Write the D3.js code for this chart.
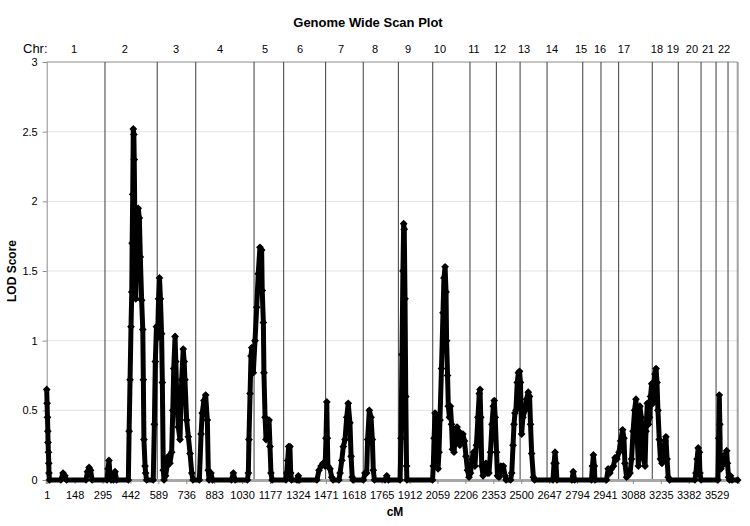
<!DOCTYPE html>
<html lang="en">
<head>
<meta charset="UTF-8">
<title>Genome Wide Scan Plot</title>
<script src="https://d3js.org/d3.v7.min.js"></script>
<style>
  body { margin: 0; background: #fff; }
  svg text { font-family: "Liberation Sans", Arial, sans-serif; fill: #000; }
</style>
</head>
<body>
<script>
// chromosome names, where each one ends (cM) and where its label sits (cM)
const chrNames = ["1","2","3","4","5","6","7","8","9","10","11","12","13","14","15","16","17","18","19","20","21","22"];
const chrEnds = [308, 583, 786, 1093, 1249, 1470, 1668, 1853, 2034, 2230, 2369, 2494, 2636, 2824, 2920, 3013, 3190, 3327, 3447, 3526, 3589, 3640];
const chrLabelAt = [145, 413, 682, 914, 1151, 1335, 1551, 1730, 1904, 2072, 2251, 2388, 2515, 2662, 2815, 2915, 3041, 3215, 3299, 3399, 3484, 3568];

const cmTicks = [1, 148, 295, 442, 589, 736, 883, 1030, 1177, 1324, 1471, 1618, 1765, 1912, 2059, 2206, 2353, 2500, 2647, 2794, 2941, 3088, 3235, 3382, 3529];
const lodTicks = [0, 0.5, 1, 1.5, 2, 2.5, 3];

// LOD score, [cM, LOD]
const scanChr1to4 = [
  [1,0.65],[3,0.55],[5,0.45],[7,0.35],[8,0.27],[10,0.2],[12,0.12],[13,0.05],[16,0],
  [76,0],[87,0.05],[97,0.03],[105,0],
  [208,0],[216,0.06],[224,0.09],[232,0.07],[240,0],
  [319,0],[324,0.08],[329,0.14],[334,0.05],[340,0],
  [353,0],[361,0.06],[369,0],
  [431,0],[435,0.35],[440,0.72],[445,1.1],[449,1.35],[451,1.7],[454,2.05],[457,2.52],[460,2.48],
  [462,2.3],[465,1.9],[468,1.5],[470,1.3],[474,1.6],[478,1.85],[483,1.95],[489,1.88],[494,1.6],
  [501,1.29],[507,1.08],[510,0.72],[513,0.29],[519,0.1],[522,0.05],[527,0],
  [562,0],[568,0.4],[573,0.85],[579,1.1],[585,1.02],[590,1.3],[595,1.45],[600,1.3],[606,1.05],
  [610,0.7],[615,0.07],[619,0],[627,0.03],[635,0.1],[642,0.17],[650,0.12],[659,0.2],[665,0.5],
  [670,0.8],[677,1.03],[681,0.85],[686,0.6],[694,0.38],[703,0.29],[712,0.72],[720,0.94],[725,0.85],
  [729,0.72],[738,0.43],[747,0.31],[756,0.19],[765,0.05],[771,0],
  [805,0],[814,0.33],[820,0.48],[829,0.57],[838,0.61],[847,0.43],[852,0.07],[856,0],[866,0.05],[874,0],
  [974,0],[984,0.05],[993,0]
];
const scanChr5to9 = [
  [1058,0],[1063,0.05],[1066,0.29],[1072,0.62],[1077,0.89],[1081,0.95],[1089,0.77],[1098,1.0],[1107,1.24],
  [1115,1.48],[1124,1.67],[1133,1.65],[1136,1.36],[1142,1.13],[1145,0.77],[1151,0.45],[1156,0.29],
  [1163,0.41],[1172,0.43],[1177,0.24],[1182,0.05],[1188,0],
  [1261,0],[1265,0.05],[1270,0.14],[1275,0.24],[1282,0.24],[1286,0.05],[1290,0],
  [1319,0],[1326,0.03],[1332,0],
  [1424,0],[1435,0.07],[1446,0.1],[1456,0.12],[1467,0.1],[1472,0.3],[1476,0.56],[1479,0.3],[1482,0.1],
  [1493,0.08],[1502,0.02],[1509,0],
  [1540,0],[1546,0.05],[1555,0.14],[1563,0.24],[1572,0.29],[1581,0.45],[1589,0.55],[1598,0.41],
  [1604,0.17],[1610,0.02],[1614,0],
  [1669,0],[1677,0.05],[1686,0.05],[1691,0.29],[1700,0.5],[1709,0.45],[1716,0.29],[1721,0.07],[1727,0],
  [1783,0],[1792,0.03],[1801,0],
  [1862,0],[1867,0.3],[1872,0.9],[1877,1.5],[1881,1.84],[1884,1.8],[1888,1.3],[1892,0.6],[1896,0.1],[1898,0]
];
const scanChr10to13 = [
  [2033,0],[2037,0.1],[2041,0.3],[2046,0.48],[2051,0.4],[2056,0.15],[2062,0.08],[2067,0.2],[2072,0.43],
  [2080,0.8],[2088,1.2],[2093,1.45],[2099,1.53],[2104,1.35],[2107,1.0],[2112,0.75],[2116,0.53],
  [2122,0.45],[2127,0.53],[2133,0.4],[2138,0.22],[2146,0.2],[2154,0.32],[2162,0.38],[2170,0.35],
  [2177,0.25],[2185,0.33],[2193,0.33],[2201,0.28],[2209,0.17],[2217,0.07],[2225,0.02],
  [2233,0.05],[2241,0.15],[2249,0.2],[2256,0.1],[2264,0.25],[2272,0.45],[2279,0.62],[2283,0.65],
  [2287,0.45],[2292,0.1],[2299,0.03],[2306,0.08],[2314,0.12],[2322,0.05],[2330,0.05],[2338,0.2],
  [2346,0.4],[2353,0.53],[2358,0.57],[2363,0.45],[2370,0.2],[2375,0.03],[2383,0.02],[2393,0.1],
  [2406,0.1],[2415,0.03],[2420,0],
  [2444,0],[2450,0.05],[2457,0.25],[2462,0.4],[2467,0.48],[2472,0.5],[2479,0.7],[2485,0.77],[2491,0.78],
  [2496,0.7],[2502,0.33],[2509,0.45],[2520,0.5],[2528,0.58],[2537,0.63],[2544,0.6],[2549,0.4],
  [2555,0.19],[2564,0.02],[2570,0]
];
const scanChr14to22 = [
  [2667,0],[2673,0.12],[2678,0.2],[2683,0.12],[2688,0],
  [2767,0],[2774,0.06],[2781,0],
  [2870,0],[2875,0.1],[2880,0.18],[2885,0.1],[2888,0],
  [2949,0],[2958,0.08],[2967,0.05],[2975,0.08],
  [2986,0.1],[2994,0.16],[3004,0.15],[3015,0.2],[3023,0.28],[3034,0.36],[3041,0.3],[3046,0.12],
  [3055,0.02],[3062,0.03],[3073,0.05],[3081,0.15],[3089,0.35],[3097,0.5],[3104,0.58],[3111,0.3],
  [3117,0.1],[3120,0.4],[3125,0.53],[3132,0.45],[3139,0.25],[3144,0.15],[3152,0.1],[3157,0.35],
  [3164,0.55],[3170,0.4],[3176,0.45],[3181,0.6],[3187,0.69],
  [3194,0.55],[3199,0.7],[3204,0.76],[3210,0.8],[3215,0.7],[3220,0.5],[3227,0.29],[3233,0.15],
  [3241,0.12],[3249,0.2],[3257,0.28],[3262,0.31],[3268,0.15],[3274,0.02],[3281,0],
  [3415,0],[3420,0.05],[3426,0.15],[3432,0.23],[3438,0.2],[3441,0.05],[3447,0],
  [3536,0],[3540,0.3],[3543,0.61],[3546,0.4],[3549,0.1],[3552,0.08],[3557,0.1],[3565,0.14],
  [3573,0.18],[3582,0.21],[3586,0.12],[3592,0.02],[3597,0],
  [3602,0.03],[3610,0],[3640,0]
];

const scan = [...scanChr1to4, ...scanChr5to9, ...scanChr10to13, ...scanChr14to22];

const w = 750, h = 526;
const plotLeft = 46.7, plotRight = 737.7, plotTop = 62, plotBottom = 480;

const svg = d3.select("body").append("svg")
  .attr("width", w)
  .attr("height", h);

const x = d3.scaleLinear().domain([1, 3640]).range([plotLeft, plotRight]);
const y = d3.scaleLinear().domain([0, 3]).range([plotBottom, plotTop]);

// gridlines
svg.append("g")
  .selectAll("line")
  .data(lodTicks.filter(d => d > 0 && d < 3))
  .join("line")
  .attr("x1", plotLeft).attr("x2", plotRight)
  .attr("y1", d => y(d)).attr("y2", d => y(d))
  .attr("stroke", "#e3e3e3");

// plot border top / right
svg.append("line")
  .attr("x1", plotLeft).attr("x2", plotRight).attr("y1", plotTop).attr("y2", plotTop)
  .attr("stroke", "#8c8c8c");
svg.append("line")
  .attr("x1", plotRight).attr("x2", plotRight).attr("y1", plotTop).attr("y2", plotBottom)
  .attr("stroke", "#a0a0a0").attr("stroke-width", 2);

// chromosome separators
svg.append("g")
  .selectAll("line")
  .data(chrEnds.slice(0, -1))
  .join("line")
  .attr("x1", d => x(d)).attr("x2", d => x(d))
  .attr("y1", plotTop).attr("y2", plotBottom)
  .attr("stroke", "#3c3c3c");

// axes
const yAxis = svg.append("g")
  .attr("transform", `translate(${plotLeft},0)`)
  .call(d3.axisLeft(y).tickValues(lodTicks).tickSize(4).tickPadding(5).tickFormat(d => String(d)));

const xAxis = svg.append("g")
  .attr("transform", `translate(0,${plotBottom})`)
  .call(d3.axisBottom(x).tickValues(cmTicks).tickSize(4).tickPadding(7).tickFormat(d => String(d)));

[yAxis, xAxis].forEach(a => {
  a.select(".domain").attr("stroke", "#8c8c8c");
  a.selectAll(".tick line").attr("stroke", "#8c8c8c");
  a.selectAll(".tick text").attr("font-size", 11).attr("fill", "#000")
    .style("font-family", "'Liberation Sans', Arial, sans-serif");
});
xAxis.select(".domain").attr("stroke", "#a8a8a8").attr("stroke-width", 3);

// scan line and diamond markers
svg.append("path")
  .datum(scan)
  .attr("fill", "none")
  .attr("stroke", "#000")
  .attr("stroke-width", 5)
  .attr("stroke-linejoin", "round")
  .attr("d", d3.line().x(d => x(d[0])).y(d => y(d[1])));

svg.append("g")
  .selectAll("path")
  .data(scan)
  .join("path")
  .attr("d", d3.symbol(d3.symbolSquare, 30))
  .attr("transform", d => `translate(${x(d[0])},${y(d[1])}) rotate(45)`)
  .attr("fill", "#000");

// titles and labels
svg.append("text")
  .attr("x", 368).attr("y", 27)
  .attr("text-anchor", "middle")
  .attr("font-size", 13).attr("font-weight", "bold")
  .text("Genome Wide Scan Plot");

svg.append("text")
  .attr("x", 23).attr("y", 53)
  .attr("font-size", 13)
  .text("Chr:");

svg.append("g")
  .selectAll("text")
  .data(chrNames)
  .join("text")
  .attr("x", (d, i) => x(chrLabelAt[i]))
  .attr("y", 53)
  .attr("text-anchor", "middle")
  .attr("font-size", 11)
  .text(d => d);

svg.append("text")
  .attr("x", 395).attr("y", 516)
  .attr("text-anchor", "middle")
  .attr("font-size", 12).attr("font-weight", "bold")
  .text("cM");

svg.append("text")
  .attr("transform", `translate(16,${(plotTop + plotBottom) / 2}) rotate(-90)`)
  .attr("text-anchor", "middle")
  .attr("font-size", 12).attr("font-weight", "bold")
  .text("LOD Score");
</script>
</body>
</html>
